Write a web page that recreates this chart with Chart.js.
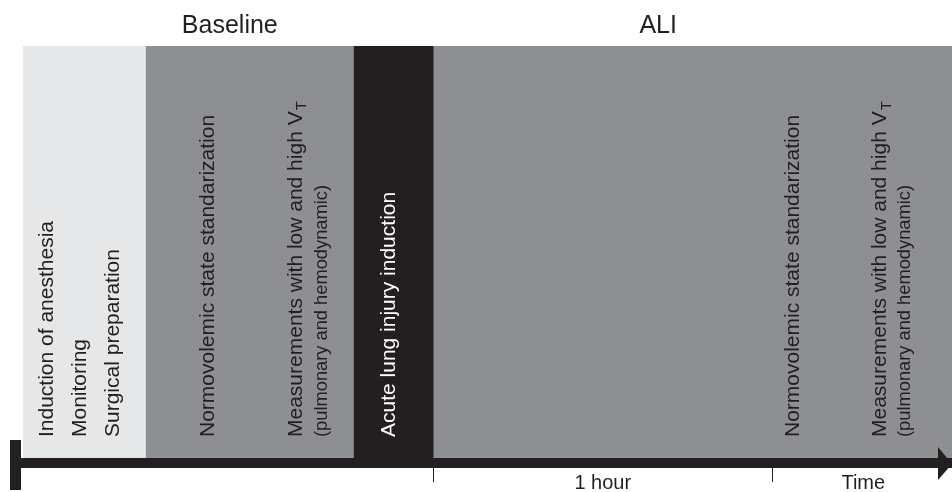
<!DOCTYPE html>
<html>
<head>
<meta charset="utf-8">
<title>Experimental protocol timeline</title>
<script src="https://cdn.jsdelivr.net/npm/chart.js@4.4.0/dist/chart.umd.min.js"></script>
<style>
  html, body { margin: 0; padding: 0; background: #ffffff; }
  #wrap { width: 952px; height: 492px; }
</style>
</head>
<body>
<div id="wrap"><canvas id="timeline" width="952" height="492"></canvas></div>
<script>
// protocol phases, minutes from start of instrumentation
const phaseNames = ["Preparation", "Baseline standardization", "Lung injury", "ALI"];
const phaseStart = [0, 21.8, 58.6, 72.7];
const phaseEnd = [21.8, 58.6, 72.7, 164.4];

// period headers above the bands
const headerText = ["Baseline", "ALI"];
const headerAt = [36.6, 112.4];

// vertical step labels inside the bands
const stepText = [
  "Induction of anesthesia",
  "Monitoring",
  "Surgical preparation",
  "Normovolemic state standarization",
  "Measurements with low and high V",
  "Acute lung injury induction",
  "Normovolemic state standarization",
  "Measurements with low and high V",
];
const stepAt = [4.25, 10.1, 15.9, 32.7, 48.3, 64.8, 136.3, 151.7];
const stepSub = ["", "", "", "", "T", "", "", "T"];

// small notes under the measurement steps
const noteText = ["(pulmonary and hemodynamic)", "(pulmonary and hemodynamic)"];
const noteAt = [52.9, 156.1];

// time axis: tick marks and labels
const tickMarks = [72.7, 132.7];
const axisLabels = ["1 hour", "Time"];
const axisLabelAt = [102.6, 148.7];

const INK = "#231f20";
const phaseColors = ["#e6e7e8", "#8e8f93", INK, "#8e8f93"];
const stepColors = [INK, INK, INK, INK, INK, "#ffffff", INK, INK];
const FONT = '"Liberation Sans", Arial, Helvetica, sans-serif';

const ctx = document.getElementById("timeline").getContext("2d");

const drawUp = (c, text, x, y, size, color, sub) => {
  c.save();
  c.translate(x, y);
  c.rotate(-Math.PI / 2);
  c.font = size + "px " + FONT;
  c.fillStyle = color;
  c.textAlign = "left";
  c.textBaseline = "middle";
  c.fillText(text, 0, 0);
  if (sub) {
    const w = c.measureText(text).width;
    c.font = Math.round(size * 0.7) + "px " + FONT;
    c.fillText(sub, w + 1, size * 0.3);
  }
  c.restore();
};

// headers, vertical labels, T-bar at the start and arrow at the end of the axis
const annotate = {
  id: "annotate",
  afterDraw(chart) {
    const c = chart.ctx;
    const xs = chart.scales.x;
    const area = chart.chartArea;
    const base = area.bottom - 26;

    c.save();
    c.fillStyle = INK;
    c.font = "25px " + FONT;
    c.textAlign = "center";
    c.textBaseline = "alphabetic";
    headerText.forEach((t, i) => {
      c.fillText(t, xs.getPixelForValue(headerAt[i]), area.top - 13);
    });

    stepText.forEach((t, i) => {
      drawUp(c, t, xs.getPixelForValue(stepAt[i]), base, 21, stepColors[i], stepSub[i]);
    });
    noteText.forEach((t, i) => {
      drawUp(c, t, xs.getPixelForValue(noteAt[i]), base, 18.3, INK);
    });

    // T bar
    c.fillStyle = INK;
    c.fillRect(area.left - 13, area.bottom - 23, 11, 50);
    // arrow head
    c.beginPath();
    c.moveTo(area.right - 14, area.bottom - 16);
    c.lineTo(area.right, area.bottom + 1);
    c.lineTo(area.right - 14, area.bottom + 17);
    c.closePath();
    c.fill();
    c.restore();
  },
};

const axisTicks = tickMarks.concat(axisLabelAt);

new Chart(ctx, {
  type: "bar",
  data: {
    labels: ["protocol"],
    datasets: [
      {
        label: "Phases",
        data: phaseStart.map((s, i) => ({ x: [s, phaseEnd[i]], y: "protocol", name: phaseNames[i] })),
        backgroundColor: phaseColors,
        borderWidth: 0,
        barPercentage: 1,
        categoryPercentage: 1,
      },
    ],
  },
  options: {
    indexAxis: "y",
    responsive: false,
    animation: false,
    layout: { padding: { top: 46, left: 23, right: 0, bottom: 0 } },
    plugins: {
      legend: { display: false },
      tooltip: { enabled: false },
    },
    scales: {
      y: { display: false },
      x: {
        type: "linear",
        min: 0,
        max: 164.4,
        afterBuildTicks: (scale) => {
          scale.ticks = axisTicks.map((v) => ({ value: v }));
        },
        afterFit: (scale) => {
          scale.height = 29;
        },
        border: { display: true, color: INK, width: 10, z: 1 },
        grid: {
          drawOnChartArea: false,
          drawTicks: true,
          tickLength: 19,
          lineWidth: 1,
          color: (c) => (c.tick && tickMarks.includes(c.tick.value) ? INK : "rgba(0,0,0,0)"),
        },
        ticks: {
          padding: -11,
          color: INK,
          autoSkip: false,
          maxRotation: 0,
          font: { family: FONT, size: 20 },
          callback: (v) => {
            const k = axisLabelAt.indexOf(v);
            return k >= 0 ? axisLabels[k] : "";
          },
        },
      },
    },
  },
  plugins: [annotate],
});
</script>
</body>
</html>
